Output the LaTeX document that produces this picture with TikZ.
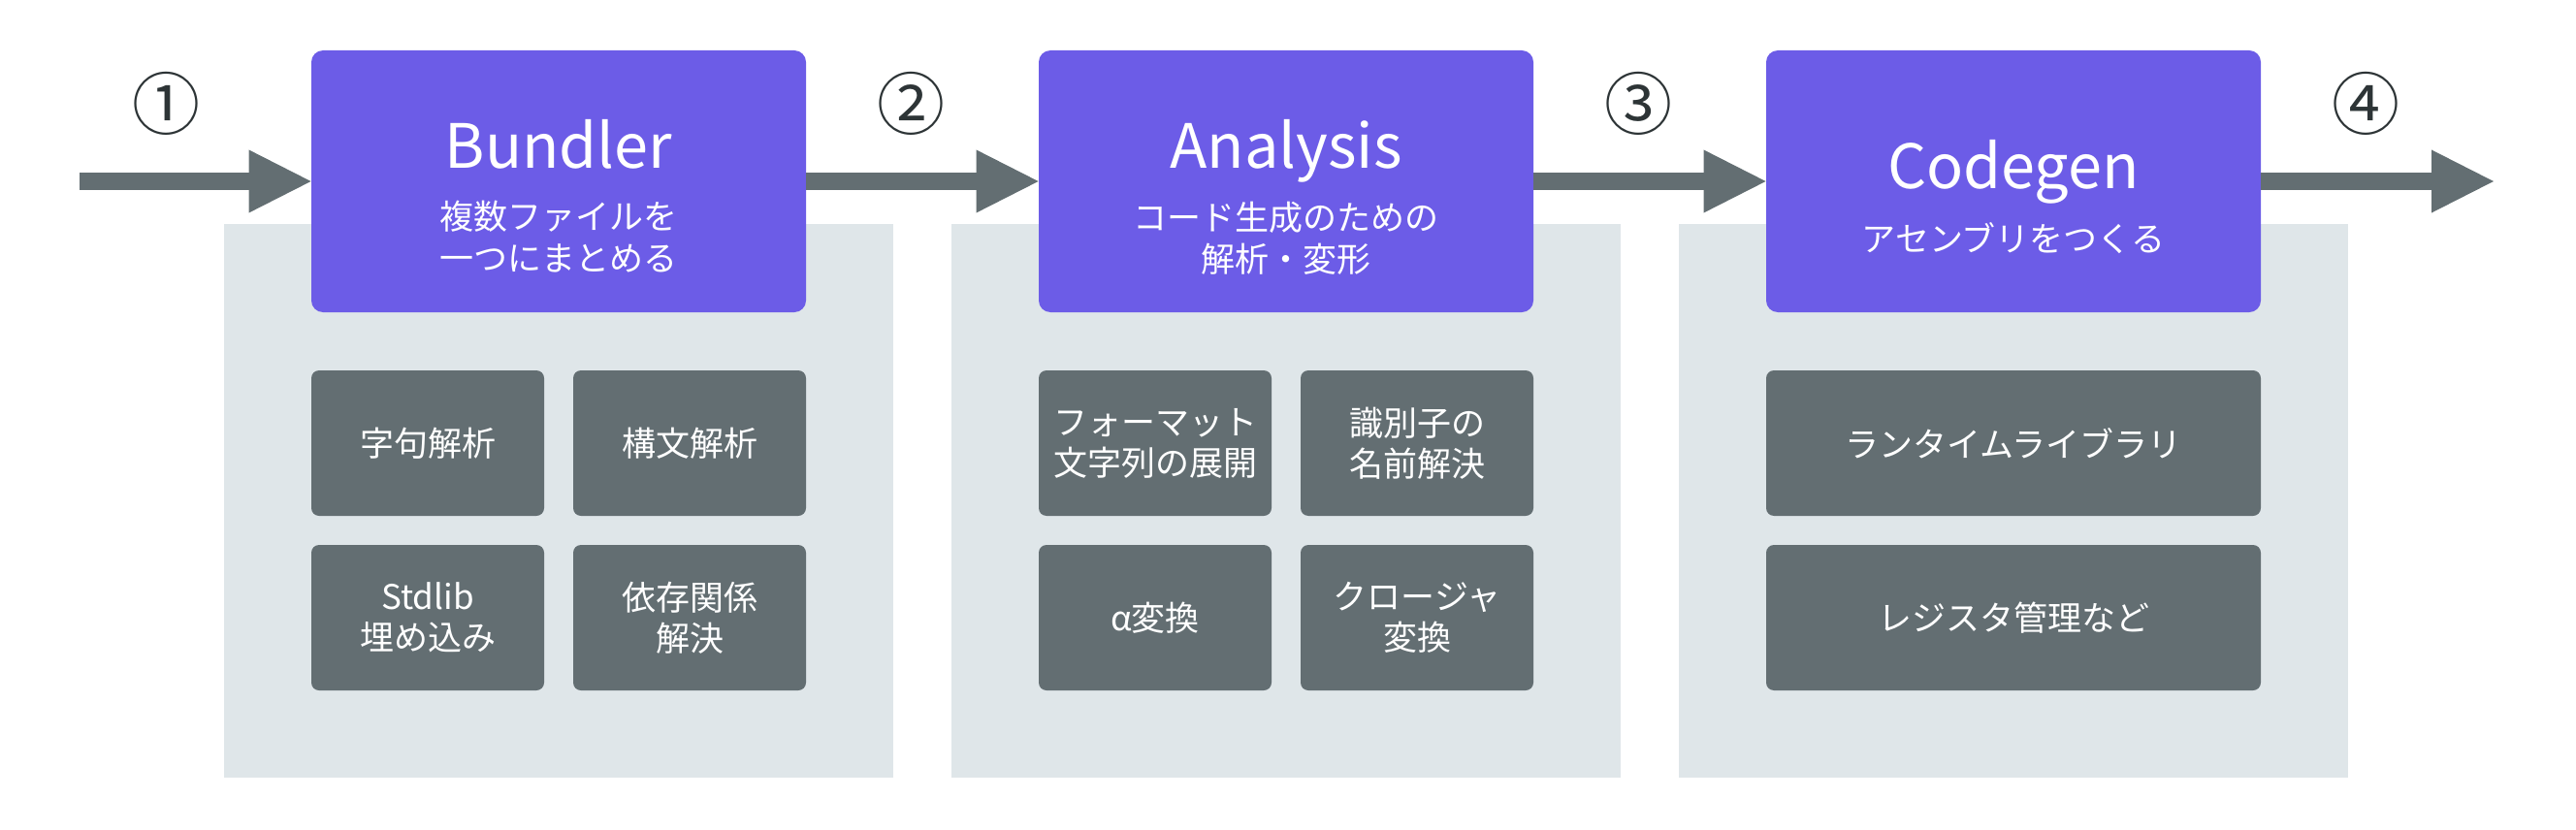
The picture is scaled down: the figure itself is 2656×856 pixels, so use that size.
\documentclass[tikz,border=0pt]{standalone}
\usepackage{fontspec}
\setmainfont{Noto Sans CJK JP}
\usetikzlibrary{arrows.meta}
\definecolor{stagepurple}{HTML}{6C5CE7}
\definecolor{itemgray}{HTML}{636E72}
\definecolor{panelgray}{HTML}{DFE6E9}
\definecolor{numdark}{HTML}{2D3436}
\tikzset{
  panelbox/.style={fill=panelgray, draw=none, minimum width=345pt, minimum height=285.5pt, inner sep=0pt},
  stagebox/.style={fill=stagepurple, draw=none, rounded corners=6pt, minimum width=255pt, minimum height=135pt, inner sep=0pt},
  itembox/.style={fill=itemgray, draw=none, rounded corners=4pt, minimum width=120pt, minimum height=75pt, inner sep=0pt, text=white, align=center, font={\fontsize{17.5pt}{21pt}\selectfont}},
  wideitem/.style={itembox, minimum width=255pt},
  titletext/.style={text=white, inner sep=0pt, anchor=base, font={\fontsize{31.5pt}{36pt}\selectfont}},
  subtext/.style={text=white, inner sep=0pt, anchor=north, align=center, font={\fontsize{17.5pt}{21.5pt}\selectfont}},
  stepnum/.style={text=numdark, inner sep=0pt, font={\fontsize{35pt}{40pt}\selectfont}},
  flowarrow/.style={draw=itemgray, line width=9pt, -{Triangle[length=32pt,width=32.5pt,line width=0pt]}}
}
\begin{document}
\begin{tikzpicture}[x=0.5pt, y=-0.5pt]
\useasboundingbox (0,0) rectangle (2656,856);
% panels
\node[panelbox] (p1) at (576,516.5) {};
\node[panelbox] (p2) at (1326,516.5) {};
\node[panelbox] (p3) at (2076,516.5) {};
% stage boxes
\node[stagebox] (b1) at (576,187) {};
\node[stagebox] (b2) at (1326,187) {};
\node[stagebox] (b3) at (2076,187) {};
% titles
\node[titletext] (t1) at (576,173) {Bundler};
\node[titletext] (t2) at (1326,173) {Analysis};
\node[titletext] (t3) at (2076,194) {Codegen};
\node[subtext] (s1) at (576,207) {複数ファイルを\\一つにまとめる};
\node[subtext] (s2) at (1326,208) {コード生成のための\\解析・変形};
\node[subtext] (s3) at (2076,229) {アセンブリをつくる};
% items stage 1
\node[itembox] (i11) at (441,457) {字句解析};
\node[itembox] (i12) at (711,457) {構文解析};
\node[itembox] (i13) at (441,637) {Stdlib\\埋め込み};
\node[itembox] (i14) at (711,637) {依存関係\\解決};
% items stage 2
\node[itembox] (i21) at (1191,457) {フォーマット\\文字列の展開};
\node[itembox] (i22) at (1461,457) {識別子の\\名前解決};
\node[itembox] (i23) at (1191,637) {α変換};
\node[itembox] (i24) at (1461,637) {クロージャ\\変換};
% items stage 3
\node[wideitem] (i31) at (2076,457) {ランタイムライブラリ};
\node[wideitem] (i32) at (2076,637) {レジスタ管理など};
% arrows
\coordinate (start) at (82,187);
\coordinate (finish) at (2571,187);
\draw[flowarrow] (start) -- (b1.west);
\draw[flowarrow] (b1.east) -- (b2.west);
\draw[flowarrow] (b2.east) -- (b3.west);
\draw[flowarrow] (b3.east) -- (finish);
% step numbers
\node[stepnum] (n1) at (171,107) {①};
\node[stepnum] (n2) at (939,107) {②};
\node[stepnum] (n3) at (1689,107) {③};
\node[stepnum] (n4) at (2439,107) {④};
\end{tikzpicture}
\end{document}
